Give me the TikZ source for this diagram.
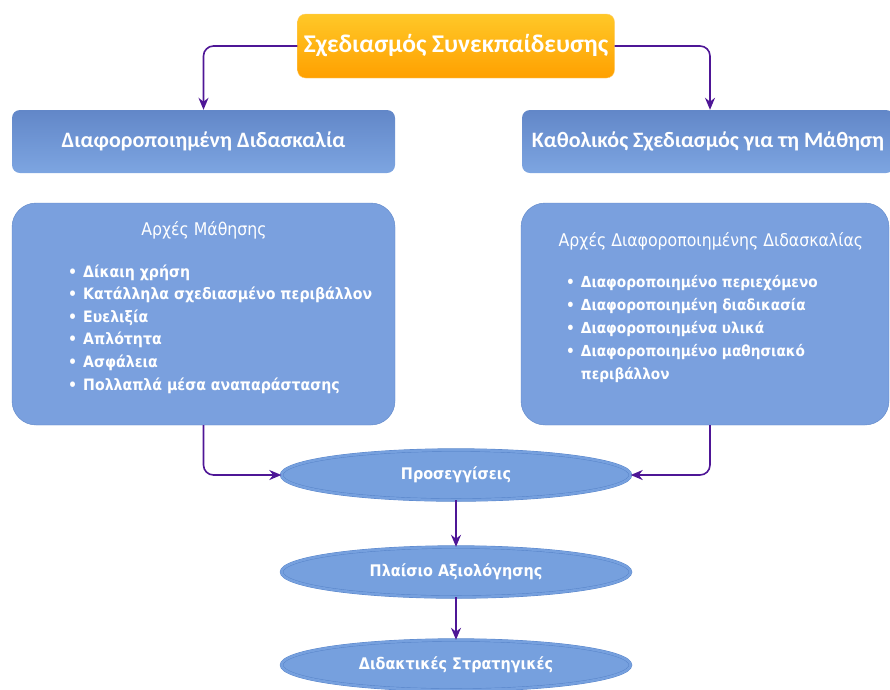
\documentclass[tikz,border=0pt]{standalone}
\usepackage{fontspec}
\setmainfont{Carlito}
\newfontfamily\bodyfont{DejaVu Sans Condensed}
\usetikzlibrary{arrows.meta,shapes.geometric}
\definecolor{arrowc}{RGB}{78,22,150}
\definecolor{orangetop}{RGB}{255,200,40}
\definecolor{orangebot}{RGB}{255,160,0}
\definecolor{orangeedge}{RGB}{255,205,110}
\definecolor{headtop}{RGB}{98,135,200}
\definecolor{headbot}{RGB}{125,165,225}
\definecolor{panelfill}{RGB}{122,160,222}
\definecolor{paneledge}{RGB}{95,135,200}
\definecolor{ellfill}{RGB}{118,160,222}
\definecolor{elledge}{RGB}{85,130,200}
\begin{document}
\begin{tikzpicture}[
    x=1pt, y=-1pt,
    basebox/.style={rectangle, rounded corners=8pt, text=white, align=center, font=\bfseries\fontsize{22}{26}\selectfont},
    topbox/.style={basebox, top color=orangetop, bottom color=orangebot, draw=orangeedge, minimum width=317pt, minimum height=64pt, font=\bfseries\fontsize{25.5}{30}\selectfont},
    heading/.style={basebox, top color=headtop, bottom color=headbot, minimum height=63pt},
    panel/.style={rectangle, rounded corners=24pt, fill=panelfill, draw=paneledge, minimum height=222pt},
    paneltitle/.style={text=white, font=\bodyfont\fontsize{17.5}{20}\selectfont},
    listtext/.style={text=white, inner sep=0pt, anchor=north west, font=\bodyfont\bfseries\fontsize{15.7}{22.6}\selectfont},
    stage/.style={ellipse, fill=ellfill, draw=elledge, double=ellfill, double distance=2.5pt, minimum width=349pt, minimum height=50pt, text=white, font=\bodyfont\bfseries\fontsize{16}{18}\selectfont},
    arrow/.style={-{Stealth[length=12pt,width=10pt]}, line width=1.6pt, draw=arrowc, rounded corners=10pt}
]
\useasboundingbox (0,0) rectangle (890,689);

% Top
\node[topbox] (coteaching) at (456,46) {Σχεδιασμός Συνεκπαίδευσης};

% Headings
\node[heading, minimum width=383pt] (diffinstr) at (203.5,141.5) {Διαφοροποιημένη Διδασκαλία};
\node[heading, minimum width=372pt] (udl) at (708,141.5) {Καθολικός Σχεδιασμός για τη Μάθηση};

% Panels
\node[panel, minimum width=383pt] (learnpanel) at (203.5,314) {};
\node[panel, minimum width=368pt] (diffpanel) at (705,314) {};

\node[paneltitle] (learntitle) at (204,230) {Αρχές Μάθησης};
\node[listtext] (learnlist) at (68,261) {\begin{tabular}{@{}l@{\hspace{6pt}}l@{}}
•&Δίκαιη χρήση\\
•&Κατάλληλα σχεδιασμένο περιβάλλον\\
•&Ευελιξία\\
•&Απλότητα\\
•&Ασφάλεια\\
•&Πολλαπλά μέσα αναπαράστασης
\end{tabular}};

\node[paneltitle] (difftitle) at (711,241) {Αρχές Διαφοροποιημένης Διδασκαλίας};
\node[listtext, font=\bodyfont\bfseries\fontsize{15.2}{23}\selectfont] (difflist) at (566,271) {\begin{tabular}{@{}l@{\hspace{6pt}}l@{}}
•&Διαφοροποιημένο περιεχόμενο\\
•&Διαφοροποιημένη διαδικασία\\
•&Διαφοροποιημένα υλικά\\
•&Διαφοροποιημένο μαθησιακό\\
&περιβάλλον
\end{tabular}};

% Stages
\node[stage] (approaches) at (456,475) {Προσεγγίσεις};
\node[stage] (assessment) at (456,572) {Πλαίσιο Αξιολόγησης};
\node[stage] (strategies) at (456,665) {Διδακτικές Στρατηγικές};

% Connections
\draw[arrow] (coteaching.west) -| (diffinstr.north);
\draw[arrow] (coteaching.east) -| ([xshift=2pt]udl.north);
\draw[arrow] (learnpanel.south) |- (approaches.west);
\draw[arrow] ([xshift=5pt]diffpanel.south) |- (approaches.east);
\draw[arrow] (approaches) -- (assessment);
\draw[arrow] (assessment) -- (strategies);

\end{tikzpicture}
\end{document}
